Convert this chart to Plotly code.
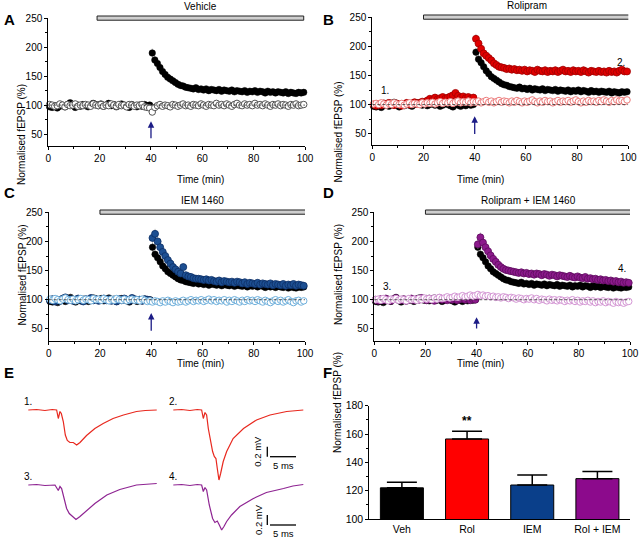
import plotly.graph_objects as go

# ---------------- DATA ----------------
time_min = [t + 0.5 for t in range(100)]

veh_ltp = [97, 96, 99, 95, 98, 100, 97, 101, 104, 99,
           96, 100, 98, 101, 99, 97, 100, 103, 101, 99,
           102, 98, 100, 103, 99, 101, 97, 99, 102, 100,
           98, 96, 101, 99, 97, 100, 98, 101, 99, 100,
           190, 178, 172, 165, 158, 153, 148, 145, 142, 139,
           136, 134, 133, 131, 130, 129, 128, 130, 127, 128,
           126, 128, 125, 127, 126, 125, 127, 124, 126, 125,
           124, 126, 123, 125, 124, 123, 125, 122, 124, 123,
           125, 122, 124, 123, 121, 124, 122, 123, 121, 123,
           122, 121, 123, 120, 122, 121, 120, 122, 121, 122]

veh_ctrl = [101, 100, 98, 99, 102, 100, 97, 101, 99, 100,
            102, 98, 100, 99, 101, 100, 98, 102, 100, 99,
            101, 98, 100, 99, 102, 100, 98, 101, 99, 100,
            97, 101, 100, 98, 100, 99, 101, 97, 96, 95,
            88, 96, 99, 101, 98, 100, 99, 97, 101, 100,
            98, 100, 102, 99, 100, 98, 101, 100, 99, 102,
            100, 98, 101, 100, 99, 103, 100, 101, 99, 102,
            100, 98, 101, 103, 100, 99, 102, 100, 101, 99,
            103, 100, 101, 99, 102, 100, 98, 101, 100, 102,
            99, 101, 100, 98, 101, 100, 102, 99, 100, 101]

rol_ltp = [100, 98, 101, 99, 102, 100, 103, 101, 99, 102,
           100, 98, 101, 103, 100, 102, 104, 101, 103, 105,
           104, 107, 110, 108, 112, 109, 111, 113, 110, 112,
           114, 116, 120, 115, 112, 114, 111, 113, 110, 112,
           213, 205, 196, 188, 184, 180, 176, 171, 168, 165,
           164, 163, 161, 162, 160, 161, 159, 160, 158, 160,
           157, 159, 158, 156, 160, 158, 157, 159, 156, 158,
           157, 159, 156, 158, 160, 157, 158, 156, 159, 157,
           158, 156, 159, 157, 155, 158, 157, 156, 158, 156,
           157, 155, 158, 156, 157, 155, 158, 160, 157, 157]

rol_ctrl = [101, 102, 100, 103, 101, 99, 102, 100, 103, 101,
            100, 102, 99, 101, 103, 100, 102, 101, 100, 103,
            101, 103, 102, 104, 101, 103, 105, 102, 104, 103,
            105, 102, 104, 106, 103, 105, 104, 106, 103, 105,
            104, 106, 103, 105, 107, 104, 106, 103, 105, 107,
            104, 106, 105, 103, 106, 104, 107, 105, 103, 106,
            104, 106, 108, 105, 103, 106, 104, 107, 105, 106,
            103, 105, 107, 104, 106, 105, 107, 104, 106, 108,
            105, 103, 106, 104, 107, 105, 106, 104, 107, 105,
            108, 106, 104, 107, 105, 108, 106, 107, 105, 108]

iem_ltp = [99, 101, 97, 100, 98, 102, 104, 99, 101, 98,
           100, 102, 99, 97, 101, 100, 103, 99, 101, 98,
           100, 102, 99, 101, 98, 100, 97, 101, 99, 102,
           100, 98, 103, 101, 99, 100, 98, 101, 100, 99,
           206, 213, 200, 190, 182, 175, 168, 162, 156, 152,
           148, 145, 156, 142, 140, 139, 137, 136, 136, 135,
           134, 135, 133, 134, 132, 131, 133, 130, 132, 131,
           130, 131, 129, 131, 130, 128, 130, 127, 129, 128,
           127, 129, 126, 128, 127, 126, 128, 125, 127, 126,
           125, 127, 124, 126, 125, 127, 124, 126, 125, 124]

iem_ctrl = [101, 99, 102, 100, 98, 101, 103, 100, 99, 101,
            98, 100, 102, 99, 101, 100, 98, 102, 100, 101,
            99, 102, 100, 98, 101, 99, 102, 100, 99, 101,
            98, 100, 101, 99, 100, 98, 101, 99, 97, 98,
            96, 98, 97, 95, 98, 96, 99, 97, 95, 98,
            96, 97, 99, 96, 98, 100, 97, 99, 98, 100,
            97, 99, 101, 98, 100, 97, 99, 98, 100, 96,
            99, 97, 100, 98, 96, 99, 97, 100, 98, 99,
            97, 100, 98, 96, 99, 97, 95, 98, 100, 97,
            99, 96, 98, 100, 97, 95, 98, 99, 96, 98]

roliem_ltp = [100, 98, 101, 99, 102, 100, 98, 101, 103, 100,
              99, 101, 98, 100, 102, 99, 101, 100, 103, 101,
              99, 102, 100, 98, 101, 103, 100, 102, 99, 101,
              100, 102, 99, 101, 103, 100, 102, 99, 101, 100,
              195, 207, 198, 190, 183, 176, 170, 165, 160, 156,
              153, 151, 150, 149, 148, 147, 146, 147, 145, 146,
              144, 145, 143, 145, 144, 142, 144, 143, 141, 143,
              142, 140, 142, 141, 140, 139, 141, 139, 138, 140,
              138, 137, 139, 136, 137, 135, 136, 134, 135, 133,
              134, 132, 133, 131, 132, 130, 131, 129, 130, 129]

roliem_ctrl = [100, 101, 99, 102, 100, 98, 101, 100, 102, 99,
               101, 100, 98, 102, 100, 101, 99, 102, 100, 103,
               101, 102, 100, 103, 101, 104, 102, 103, 105, 103,
               104, 106, 104, 105, 107, 105, 106, 108, 106, 107,
               109, 107, 108, 106, 107, 105, 106, 104, 105, 103,
               105, 104, 102, 104, 103, 101, 103, 102, 100, 102,
               101, 103, 100, 102, 99, 101, 100, 98, 101, 99,
               100, 98, 100, 99, 97, 99, 98, 100, 97, 99,
               96, 98, 97, 99, 96, 98, 95, 97, 96, 98,
               95, 97, 96, 94, 97, 95, 96, 94, 96, 97]

drug_labels = ["Vehicle", "Rolipram", "IEM 1460", "Rolipram + IEM 1460"]
drug_start = [19, 20, 20, 20]
drug_end = [99.5, 100.5, 100.2, 100.5]
arrow_base = [40, 47, 44, 48]
arrow_tip = [72, 80, 77, 70]

# example fEPSP traces (ms, mV relative to baseline)
tr1_t = [0, 1.6, 3.2, 4.6, 5.45, 5.77, 6.09, 6.35, 6.73, 7.12, 7.5, 8.0, 8.65, 9.3, 9.94, 11.2, 12.8, 14.4, 16.3, 18.3, 20.8, 22.5, 24.7]
tr1_v = [0, 0.01, -0.01, 0.01, 0, -0.17, -0.03, -0.07, -0.23, -0.5, -0.61, -0.65, -0.65, -0.70, -0.65, -0.51, -0.37, -0.27, -0.17, -0.10, -0.03, -0.01, 0]
tr2_t = [0, 1.6, 3.2, 4.6, 5.45, 5.77, 6.09, 6.41, 6.73, 7.18, 7.56, 7.88, 8.2, 8.46, 8.78, 9.1, 9.6, 10.26, 11.5, 13.5, 16.0, 18.6, 21.8, 25.0]
tr2_v = [0, 0.01, -0.01, 0.01, 0, -0.17, -0.05, -0.10, -0.37, -0.63, -0.83, -0.93, -0.97, -1.17, -1.40, -1.27, -1.03, -0.83, -0.57, -0.37, -0.2, -0.1, -0.03, 0]
tr3_t = [0, 1.6, 3.2, 5.13, 5.77, 6.09, 6.41, 6.86, 7.37, 7.88, 8.5, 9.17, 9.94, 11.2, 12.8, 15.1, 17.6, 20.8, 22.6, 24.7]
tr3_v = [0, 0.01, -0.01, 0, -0.11, -0.03, -0.07, -0.27, -0.47, -0.57, -0.62, -0.69, -0.63, -0.51, -0.37, -0.2, -0.09, 0, 0.01, 0.03]
tr4_t = [0, 1.6, 3.2, 4.6, 5.45, 5.77, 6.09, 6.41, 6.92, 7.56, 8.0, 8.46, 8.85, 9.3, 9.74, 10.26, 11.2, 12.8, 15.4, 17.9, 21.2, 23.0, 25.0]
tr4_v = [0, 0.01, -0.01, 0.01, 0, -0.13, -0.05, -0.10, -0.40, -0.67, -0.75, -0.72, -0.80, -0.90, -0.83, -0.73, -0.6, -0.43, -0.27, -0.15, -0.07, -0.02, 0.01]
trace_labels = ["1.", "2.", "3.", "4."]

bar_cats = ["Veh", "Rol", "IEM", "Rol + IEM"]
bar_means = [122, 156.5, 124, 128.5]
bar_sems = [4, 5.5, 7, 5]

# ---------------- STYLE / LAYOUT ----------------
FONT = "Liberation Sans, Arial, sans-serif"
W, H = 640, 539


def px_x(p):
    return p / W


def px_y(p):
    return 1 - p / H


fig = go.Figure()
annotations = []
shapes = []

panels = [
    dict(sfx="", letter="A", xd=(48.3, 305), yd=(18.3, 145.6), ltp=None, ctrl=veh_ctrl,
         fill=None, ctrl_line="#555555", num=None, ytitle=(14, 82), xtitle=(176, 173), lpos=(2, 9)),
    dict(sfx="2", letter="B", xd=(372.3, 628.3), yd=(17.3, 145.3), ltp=rol_ltp, ctrl=rol_ctrl,
         fill=("#e00000", "#a00000"), ctrl_line="#ec7b7b", num=[("1.", 5, 124), ("2.", 97, 173)],
         ytitle=(338, 80), xtitle=(505, 173), lpos=(321, 9)),
    dict(sfx="3", letter="C", xd=(48.7, 305), yd=(212.3, 340.5), ltp=iem_ltp, ctrl=iem_ctrl,
         fill=("#1d4f92", "#0c2f66"), ctrl_line="#6fb0dc", num=None,
         ytitle=(14, 275), xtitle=(176, 370), lpos=(2, 192)),
    dict(sfx="4", letter="D", xd=(374.3, 630), yd=(212.3, 340.5), ltp=roliem_ltp, ctrl=roliem_ctrl,
         fill=("#8c1a8c", "#5e0c5e"), ctrl_line="#d496d4", num=[("3.", 5, 123), ("4.", 97, 153)],
         ytitle=(338, 275), xtitle=(505, 370), lpos=(321, 192)),
]

axis_common = dict(showgrid=False, zeroline=False, showline=True, linecolor="black", linewidth=1,
                   ticks="outside", ticklen=3, tickwidth=1, tickcolor="black", automargin=False,
                   tickfont=dict(family=FONT, size=10, color="black"))

for i, p in enumerate(panels):
    sfx = p["sfx"]
    xa, ya = "x" + sfx, "y" + sfx
    fig.update_layout(**{
        "xaxis" + sfx: dict(axis_common, domain=[px_x(p["xd"][0]), px_x(p["xd"][1])], range=[0, 100],
                            anchor=ya, tickvals=[0, 20, 40, 60, 80, 100],
                            minor=dict(dtick=10, ticklen=2, tickcolor="black", ticks="outside")),
        "yaxis" + sfx: dict(axis_common, domain=[px_y(p["yd"][1]), px_y(p["yd"][0])], range=[30, 250],
                            anchor=xa, tickvals=[50, 100, 150, 200, 250],
                            minor=dict(dtick=25, ticklen=2, tickcolor="black", ticks="outside")),
    })
    # black vehicle LTP
    fig.add_trace(go.Scatter(x=time_min, y=veh_ltp, mode="markers", xaxis=xa, yaxis=ya, cliponaxis=False,
                             marker=dict(size=6.5, color="#000000", line=dict(color="#000000", width=0.5)),
                             error_y=dict(type="percent", value=4, color="#9a9a9a", thickness=0.7, width=0)))
    if p["ltp"] is not None:
        fig.add_trace(go.Scatter(x=time_min, y=p["ltp"], mode="markers", xaxis=xa, yaxis=ya, cliponaxis=False,
                                 marker=dict(size=7, color=p["fill"][0], line=dict(color=p["fill"][1], width=0.8)),
                                 error_y=dict(type="percent", value=4, color="#9a9a9a", thickness=0.7, width=0)))
    fig.add_trace(go.Scatter(x=time_min, y=p["ctrl"], mode="markers", xaxis=xa, yaxis=ya, cliponaxis=False,
                             marker=dict(size=6.5, color="white", line=dict(color=p["ctrl_line"], width=1))))
    # baseline reference line
    shapes.append(dict(type="line", xref=xa, yref=ya, x0=0, x1=100, y0=100, y1=100, layer="above",
                       line=dict(color="#333333", width=0.8, dash="3px,2px")))
    # drug application bar
    shapes.append(dict(type="rect", xref=xa, yref=ya + " domain", x0=drug_start[i], x1=drug_end[i],
                       y0=0.985, y1=1.018, fillcolor="#cfcfcf", line=dict(color="#222222", width=1)))
    annotations.append(dict(xref="paper", yref="paper",
                            x=px_x(p["xd"][0] + (drug_start[i] + drug_end[i]) / 2 / 100 * (p["xd"][1] - p["xd"][0])),
                            y=px_y(p["yd"][0] - 11.5), text=drug_labels[i], showarrow=False,
                            font=dict(family=FONT, size=10, color="black"), xanchor="center", yanchor="middle"))
    # HFS arrow
    annotations.append(dict(xref=xa, yref=ya, axref=xa, ayref=ya, x=40, y=arrow_tip[i], ax=40, ay=arrow_base[i],
                            text="", showarrow=True, arrowhead=2, arrowsize=1, arrowwidth=1.3,
                            arrowcolor="#1c1c86"))
    # trace numbers
    if p["num"]:
        for txt, xv, yv in p["num"]:
            annotations.append(dict(xref=xa, yref=ya, x=xv, y=yv, text=txt, showarrow=False,
                                    font=dict(family=FONT, size=10, color="black")))
    # axis titles + letters
    annotations.append(dict(xref="paper", yref="paper", x=px_x(p["ytitle"][0]), y=px_y(p["ytitle"][1]),
                            text="Normalised fEPSP (%)", textangle=-90, showarrow=False,
                            font=dict(family=FONT, size=10, color="black")))
    annotations.append(dict(xref="paper", yref="paper", x=px_x(p["xtitle"][0]), y=px_y(p["xtitle"][1]),
                            text="Time (min)", showarrow=False, borderpad=0,
                            font=dict(family=FONT, size=10, color="black")))
    annotations.append(dict(xref="paper", yref="paper", x=px_x(p["lpos"][0]), y=px_y(p["lpos"][1]),
                            text="<b>" + p["letter"] + "</b>", showarrow=False, xanchor="left",
                            font=dict(family=FONT, size=15, color="black")))

# ---------------- PANEL E: traces ----------------
E_MS_PER_PX = 1 / 5.2
E_MV_PER_PX = 1 / 50
fig.update_layout(
    xaxis5=dict(domain=[0, 0.5], range=[0, 320 * E_MS_PER_PX], visible=False, anchor="y5", automargin=False),
    yaxis5=dict(domain=[0, px_y(380)], range=[0, 159 * E_MV_PER_PX], visible=False, anchor="x5", automargin=False),
)
trace_sets = [(tr1_t, tr1_v, "#e8281e"), (tr2_t, tr2_v, "#e8281e"),
              (tr3_t, tr3_v, "#8e2492"), (tr4_t, tr4_v, "#8e2492")]
trace_offsets = [(28.3, 410), (173.3, 410), (28.3, 485), (173.3, 485)]
for k, ((tt, vv, col), (ox, oy)) in enumerate(zip(trace_sets, trace_offsets)):
    x0 = ox * E_MS_PER_PX
    y0 = (H - oy) * E_MV_PER_PX
    fig.add_trace(go.Scatter(x=[x0 + t for t in tt], y=[y0 + v for v in vv], mode="lines",
                             xaxis="x5", yaxis="y5", line=dict(color=col, width=1.2), cliponaxis=False))
    annotations.append(dict(xref="x5", yref="y5", x=(ox - 6) * E_MS_PER_PX, y=y0 + 0.17,
                            text=trace_labels[k], showarrow=False, xanchor="left",
                            font=dict(family=FONT, size=10, color="black")))
for bar_y in [456.7, 525]:
    yb = (H - bar_y) * E_MV_PER_PX
    shapes.append(dict(type="line", xref="x5", yref="y5", x0=267.3 * E_MS_PER_PX, x1=267.3 * E_MS_PER_PX,
                       y0=yb, y1=yb + 0.2, line=dict(color="black", width=1.3)))
    shapes.append(dict(type="line", xref="x5", yref="y5", x0=270 * E_MS_PER_PX, x1=270 * E_MS_PER_PX + 5,
                       y0=yb, y1=yb, line=dict(color="black", width=1.3)))
    annotations.append(dict(xref="x5", yref="y5", x=258 * E_MS_PER_PX, y=yb + 0.1, text="0.2 mV",
                            textangle=-90, showarrow=False, font=dict(family=FONT, size=9.5, color="black")))
    annotations.append(dict(xref="x5", yref="y5", x=270 * E_MS_PER_PX + 2.5, y=yb - 0.17, text="5 ms",
                            showarrow=False, font=dict(family=FONT, size=9.5, color="black")))
annotations.append(dict(xref="paper", yref="paper", x=px_x(2), y=px_y(383), text="<b>E</b>", showarrow=False,
                        xanchor="left", font=dict(family=FONT, size=15, color="black")))

# ---------------- PANEL F: bar chart ----------------
fig.add_trace(go.Bar(x=bar_cats, y=bar_means, xaxis="x6", yaxis="y6", width=0.66,
                     marker=dict(color=["#000000", "#ff0000", "#0a3f8a", "#8c0a8c"],
                                 line=dict(color="black", width=1)),
                     error_y=dict(type="data", array=bar_sems, arrayminus=[0, 0, 0, 0], symmetric=False,
                                  color="black", thickness=1.5, width=15)))
fig.update_layout(
    xaxis6=dict(axis_common, domain=[px_x(369.3), px_x(630)], range=[-0.5, 3.5], anchor="y6", ticks="",
                tickfont=dict(family=FONT, size=10.5, color="black")),
    yaxis6=dict(axis_common, domain=[px_y(519), px_y(405.7)], range=[100, 180], anchor="x6",
                tickvals=[100, 120, 140, 160, 180], tickfont=dict(family=FONT, size=10.5, color="black"),
                minor=dict(dtick=10, ticklen=2, tickcolor="black", ticks="outside")),
    bargap=0.34,
)
annotations.append(dict(xref="x6", yref="y6", x="Rol", y=169, text="<b>**</b>", showarrow=False,
                        font=dict(family=FONT, size=12, color="black")))
annotations.append(dict(xref="paper", yref="paper", x=px_x(337.5), y=px_y(455), text="Normalised fEPSP (%)",
                        textangle=-90, showarrow=False, font=dict(family=FONT, size=10, color="black")))
annotations.append(dict(xref="paper", yref="paper", x=px_x(321), y=px_y(383), text="<b>F</b>", showarrow=False,
                        xanchor="left", font=dict(family=FONT, size=15, color="black")))

fig.update_layout(width=W, height=H, margin=dict(l=0, r=0, t=0, b=0, autoexpand=False), showlegend=False,
                  plot_bgcolor="white", paper_bgcolor="white", annotations=annotations, shapes=shapes,
                  font=dict(family=FONT, size=10, color="black"))

fig.write_html("out.html", config={"displayModeBar": False},
               post_script="document.body.style.margin='0';document.body.style.padding='0';"
                           "document.body.style.overflow='hidden';")
